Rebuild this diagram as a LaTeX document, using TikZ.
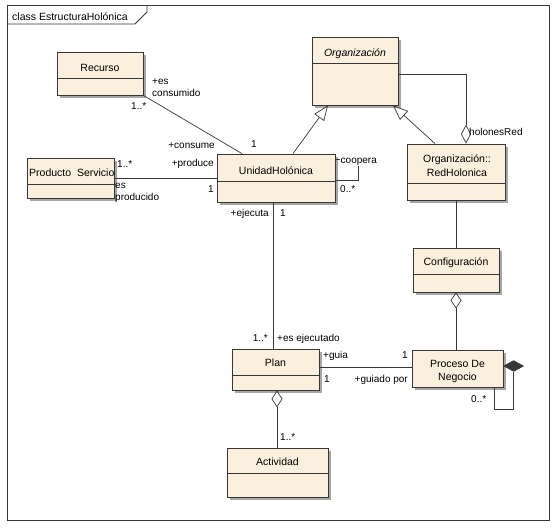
\documentclass[tikz,border=0pt]{standalone}
\usepackage{fontspec}
\setmainfont{Liberation Sans}
\usetikzlibrary{arrows.meta,shadows,shapes.geometric}
\definecolor{umlfill}{RGB}{251,239,222}
\definecolor{umlline}{RGB}{55,55,55}
\begin{document}
\begin{tikzpicture}[x=1pt,y=-1pt,
 cls/.style={draw=umlline, fill=umlfill, line width=0.8pt, inner sep=0pt,
   drop shadow={shadow xshift=2.5pt,shadow yshift=-2.5pt,fill=black!35,opacity=1}},
 ttl/.style={inner sep=0pt, font=\fontsize{10.5}{12}\selectfont, anchor=base},
 lbl/.style={inner sep=0pt, font=\fontsize{10}{12}\selectfont},
 conn/.style={draw=umlline, line width=0.7pt},
 divl/.style={draw=umlline, line width=0.8pt},
 gen/.style={-{Triangle[open,length=15pt,width=12pt]}},
 agg/.style={{Diamond[open,length=17pt,width=11pt]}-},
]
\path[use as bounding box] (0,0) rectangle (558,528);

% frame
\draw[line width=0.8pt, draw=umlline] (7,5) rectangle (549,520);
\draw[line width=0.8pt, draw=umlline] (7,24) -- (135,24) -- (147,12) -- (147,5);
\node[lbl, font=\fontsize{10.5}{12}\selectfont, anchor=base west] (frameT) at (12,20) {class EstructuraHolónica};

% classes
\node[cls, minimum width=86pt, minimum height=43pt] (rec) at (100,73.5) {};
\draw[divl] ([yshift=-4.5pt]rec.west) -- ([yshift=-4.5pt]rec.east);
\node[ttl] (recT) at (100,71) {Recurso};

\node[cls, minimum width=86pt, minimum height=68pt] (org) at (355,71) {};
\draw[divl] ([yshift=8pt]org.west) -- ([yshift=8pt]org.east);
\node[ttl, font=\fontsize{10.5}{12}\selectfont\itshape] (orgT) at (355,56) {Organización};

\node[cls, minimum width=98pt, minimum height=56pt] (red) at (456,172) {};
\draw[divl] ([yshift=-11pt]red.west) -- ([yshift=-11pt]red.east);
\node[ttl] (redT1) at (457,162) {Organización::};
\node[ttl] (redT2) at (457,176) {RedHolonica};

\node[cls, minimum width=86pt, minimum height=44pt] (conf) at (456,270) {};
\draw[divl] ([yshift=-4pt]conf.west) -- ([yshift=-4pt]conf.east);
\node[ttl] (confT) at (456,265) {Configuración};

\node[cls, minimum width=118pt, minimum height=48pt] (uh) at (276,178) {};
\draw[divl] ([yshift=-3pt]uh.west) -- ([yshift=-3pt]uh.east);
\node[ttl] (uhT) at (276,174) {UnidadHolónica};

\node[cls, minimum width=87pt, minimum height=40pt] (ps) at (70.5,178) {};
\draw[divl] ([yshift=-6pt]ps.west) -- ([yshift=-6pt]ps.east);
\node[ttl, anchor=base west] (psT) at (29,176) {Producto\ \ Servicio};

\node[cls, minimum width=87pt, minimum height=41pt] (plan) at (275.5,369.5) {};
\draw[divl] ([yshift=-5.5pt]plan.west) -- ([yshift=-5.5pt]plan.east);
\node[ttl] (planT) at (275.5,366) {Plan};

\node[cls, minimum width=91pt, minimum height=37pt] (proc) at (457.5,368.5) {};
\node[ttl] (procT1) at (457.5,367) {Proceso De};
\node[ttl] (procT2) at (457.5,380) {Negocio};

\node[cls, minimum width=101pt, minimum height=49pt] (act) at (277.5,472.5) {};
\draw[divl] ([yshift=-0.5pt]act.west) -- ([yshift=-0.5pt]act.east);
\node[ttl] (actT) at (277.5,465) {Actividad};

% Recurso - UnidadHolonica
\draw[conn] (rec.south east) -- ([xshift=-34pt]uh.north);
\node[lbl, anchor=base west] (l1) at (152,84) {+es};
\node[lbl, anchor=base west] (l2) at (152,96) {consumido};
\node[lbl, anchor=base west] (l3) at (131,109) {1..*};
\node[lbl, anchor=base east] (l4) at (215,148) {+consume};
\node[lbl, anchor=base west] (l5) at (251,147) {1};

% Producto Servicio - UnidadHolonica
\draw[conn] (ps.east) -- (uh.west);
\node[lbl, anchor=base west] (l6) at (117,167) {1..*};
\node[lbl, anchor=base west] (l7) at (115,188) {es};
\node[lbl, anchor=base west] (l8) at (115,200) {producido};
\node[lbl, anchor=base east] (l9) at (214,166) {+produce};
\node[lbl, anchor=base east] (l10) at (214,192) {1};

% UnidadHolonica self association
\draw[conn] ([yshift=19pt]uh.east) -- ++(23,0) |- ([yshift=-2pt]uh.east);
\node[lbl, anchor=base west, fill=white, inner xsep=0.5pt, inner ysep=1pt] (l11) at (340,163) {coopera};
\node[lbl, anchor=base west] (l12) at (340,192) {0..*};

% generalizations
\draw[conn, gen] ([xshift=17pt]uh.north) -- ([xshift=-27pt]org.south);
\draw[conn, gen] ([xshift=-21pt]red.north) -- ([xshift=38pt]org.south);

% Organizacion - RedHolonica aggregation
\draw[conn, -{Diamond[open,length=19pt,width=10pt]}] ([yshift=-3pt]org.east) -| ([xshift=10pt]red.north);
\node[lbl, anchor=base west] (l13) at (469,135) {holonesRed};

% RedHolonica - Configuracion
\draw[conn] (red.south) -- (conf.north);

% Configuracion - Proceso
\draw[conn, {Diamond[open,length=16pt,width=11pt]}-] (conf.south) -- ([xshift=-1.5pt]proc.north);

% UnidadHolonica - Plan
\draw[conn] ([xshift=-3pt]uh.south) -- ([xshift=-2.5pt]plan.north);
\node[lbl, anchor=base east] (l14) at (269,216) {+ejecuta};
\node[lbl, anchor=base west] (l15) at (280,216) {1};
\node[lbl, anchor=base east] (l16) at (268,341) {1..*};
\node[lbl, anchor=base west] (l17) at (277,341) {+es ejecutado};

% Plan - Proceso
\draw[conn] ([yshift=2.5pt]plan.east) -- ([yshift=1.5pt]proc.west);
\node[lbl, anchor=base west] (l18) at (323,358) {+guia};
\node[lbl, anchor=base east] (l19) at (408,358) {1};
\node[lbl, anchor=base west] (l20) at (324,382) {1};
\node[lbl, anchor=base east] (l21) at (408,382) {+guiado por};

% Proceso self composition
\node[diamond, fill=umlline, draw=umlline, line width=0.5pt, inner sep=0pt, minimum width=20pt, minimum height=11pt, anchor=west] (pd) at ([yshift=2.5pt]proc.east) {};
\draw[conn] (pd.south) -- ++(0,37.5) -| ([xshift=36.5pt]proc.south);
\node[lbl, anchor=base west] (l22) at (471,402) {0..*};

% Plan - Actividad
\draw[conn, agg] ([xshift=1.5pt]plan.south) -- ([xshift=-0.5pt]act.north);
\node[lbl, anchor=base west] (l23) at (280,440) {1..*};
\end{tikzpicture}
\end{document}
